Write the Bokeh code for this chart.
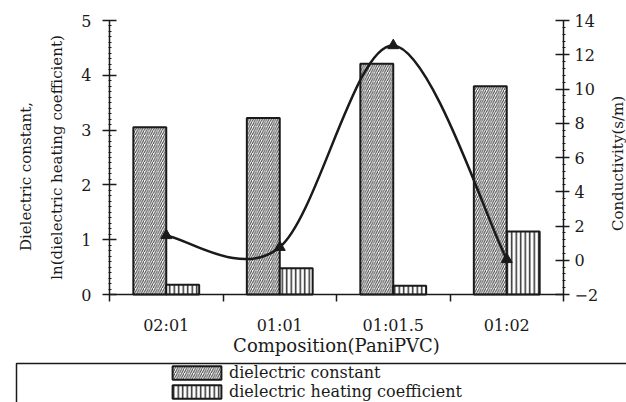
import math
from bokeh.plotting import figure
from bokeh.models import (ColumnDataSource, Range1d, LinearAxis, FixedTicker,
                          Legend, LegendItem, BoxAnnotation, Label)
from bokeh.transform import dodge
from bokeh.embed import file_html
from bokeh.resources import INLINE

# ---------------- data ----------------
categories = ["02:01", "01:01", "01:01.5", "01:02"]
dielectric_constant = [3.05, 3.22, 4.21, 3.80]
ln_heating_coeff = [0.18, 0.48, 0.16, 1.15]
conductivity = [1.45, 0.76, 12.54, 0.05]

left_ticks = [0, 1, 2, 3, 4, 5]
right_ticks = [-2, 0, 2, 4, 6, 8, 10, 12, 14]

series_labels = ["dielectric constant", "dielectric heating coefficient"]

# ---------------- layout / style ----------------
W, H = 626, 402
# pixel box of the plotting area (axes drawn at these edges)
PL, PR, PT, PB = 109, 563, 20, 294
FONT = "DejaVu Serif"
INK = "#1a1a1a"
BAR_W = 0.29

n = len(categories)
y_lo, y_hi = left_ticks[0], left_ticks[-1]
c_lo, c_hi = right_ticks[0], right_ticks[-1]

def extend(lo, hi, p_lo, p_hi, pix_lo, pix_hi):
    """range whose [lo, hi] maps to pixels [p_lo, p_hi] inside [pix_lo, pix_hi]"""
    k = (hi - lo) / (p_hi - p_lo)
    return Range1d(lo - (p_lo - pix_lo) * k, hi + (pix_hi - p_hi) * k)

x_range = extend(0, n, PL, PR, 0, W)
y_range = extend(y_lo, y_hi, H - PB, H - PT, 0, H)
c_range = extend(c_lo, c_hi, H - PB, H - PT, 0, H)

dc_style = dict(fill_color="white", line_color=INK, line_width=2,
                hatch_pattern="/", hatch_color="#3c3c3c", hatch_scale=4.5,
                hatch_weight=1)
hc_style = dict(fill_color="white", line_color=INK, line_width=2,
                hatch_pattern="|", hatch_color="#2a2a2a", hatch_scale=4.5,
                hatch_weight=1.5)

x_pos = [i + 0.5 for i in range(n)]
src = ColumnDataSource(dict(x=x_pos, cat=categories, dc=dielectric_constant,
                            hc=ln_heating_coeff, cond=conductivity))

p = figure(width=W, height=H, x_range=x_range, y_range=y_range,
           output_backend="svg", toolbar_location=None,
           min_border_left=0, min_border_right=0,
           min_border_top=0, min_border_bottom=0)
p.extra_y_ranges = {"cond": c_range}
p.grid.visible = False
p.outline_line_color = None
p.background_fill_color = "white"
p.border_fill_color = "white"

r_dc = p.vbar(x=dodge("x", -BAR_W / 2), top="dc", bottom=0, width=BAR_W,
              source=src, **dc_style)
r_hc = p.vbar(x=dodge("x", BAR_W / 2), top="hc", bottom=0, width=BAR_W,
              source=src, **hc_style)

# smoothed conductivity line (Catmull-Rom -> cubic Bezier through data points)
def smooth_segments(xs, ys):
    m = len(xs)
    seg = dict(x0=[], y0=[], x1=[], y1=[], cx0=[], cy0=[], cx1=[], cy1=[])
    for i in range(m - 1):
        xp, yp = (xs[i - 1], ys[i - 1]) if i > 0 else (xs[i], ys[i])
        xn, yn = (xs[i + 2], ys[i + 2]) if i + 2 < m else (xs[i + 1], ys[i + 1])
        seg["x0"].append(xs[i]); seg["y0"].append(ys[i])
        seg["x1"].append(xs[i + 1]); seg["y1"].append(ys[i + 1])
        seg["cx0"].append(xs[i] + (xs[i + 1] - xp) / 6)
        seg["cy0"].append(ys[i] + (ys[i + 1] - yp) / 6)
        seg["cx1"].append(xs[i + 1] - (xn - xs[i]) / 6)
        seg["cy1"].append(ys[i + 1] - (yn - ys[i]) / 6)
    return seg

curve_src = ColumnDataSource(smooth_segments(x_pos, conductivity))
p.bezier(x0="x0", y0="y0", x1="x1", y1="y1", cx0="cx0", cy0="cy0",
         cx1="cx1", cy1="cy1", source=curve_src, line_color=INK,
         line_width=2.5, y_range_name="cond")
p.scatter(x="x", y="cond", marker="triangle", size=11, fill_color=INK,
          line_color=INK, source=src, y_range_name="cond")

# ---------------- axes ----------------
def style_axis(ax):
    ax.axis_line_color = INK
    ax.axis_line_width = 1.5
    ax.major_tick_line_color = INK
    ax.major_tick_line_width = 1.5
    ax.minor_tick_line_color = INK
    ax.major_label_text_font = FONT
    ax.major_label_text_font_size = "16px"
    ax.major_label_text_color = INK
    ax.axis_label_text_font = FONT
    ax.axis_label_text_font_style = "normal"
    ax.axis_label_text_color = INK

xa = p.xaxis[0]
style_axis(xa)
xa.fixed_location = y_lo
xa.bounds = (0, n)
xa.ticker = FixedTicker(ticks=x_pos, minor_ticks=list(range(n + 1)))
xa.major_label_overrides = dict(zip(x_pos, categories))
xa.major_tick_in = 0
xa.major_tick_out = 0
xa.minor_tick_in = 0
xa.minor_tick_out = 7
xa.minor_tick_line_width = 1.5
xa.major_label_standoff = 14
xa.axis_label = "Composition(PaniPVC)"
xa.axis_label_text_font_size = "18px"
xa.axis_label_standoff = -3

ya = p.yaxis[0]
style_axis(ya)
ya.fixed_location = 0
ya.bounds = (y_lo, y_hi)
ya.ticker = FixedTicker(ticks=left_ticks, minor_ticks=[i / 10 for i in range(51)])
ya.major_tick_in = 7
ya.major_tick_out = 7
ya.minor_tick_in = 2
ya.minor_tick_out = 1
ya.minor_tick_line_width = 1
ya.major_label_standoff = 11
ya.axis_label = "ln(dielectric heating coefficient)"
ya.axis_label_text_font_size = "15px"
ya.axis_label_standoff = 12

ya2 = LinearAxis(ticker=FixedTicker(ticks=[]), axis_label="Dielectric constant,",
                 fixed_location=0, bounds=(y_lo, 4.3))
style_axis(ya2)
ya2.axis_line_color = None
ya2.major_tick_line_color = None
ya2.minor_tick_line_color = None
ya2.major_tick_out = 0
ya2.major_tick_in = 0
ya2.axis_label_text_font_size = "15px"
ya2.axis_label_standoff = 75
p.add_layout(ya2, "left")

yr = LinearAxis(y_range_name="cond", fixed_location=n, bounds=(c_lo, c_hi),
                ticker=FixedTicker(ticks=right_ticks,
                                   minor_ticks=[c_lo + 0.4 * i for i in range(41)]))
style_axis(yr)
yr.major_tick_in = 8
yr.major_tick_out = 6
yr.minor_tick_in = 1
yr.minor_tick_out = 2
yr.minor_tick_line_width = 1
yr.major_label_standoff = 5
p.add_layout(yr, "right")

p.add_layout(Label(x=617, y=H - 163, x_units="screen", y_units="screen",
                   text="Conductivity(s/m)", angle=math.pi / 2,
                   text_align="center", text_baseline="middle",
                   text_font=FONT, text_font_size="15px", text_color=INK))

# ---------------- legend ----------------
legend_box = BoxAnnotation(left=16, right=W + 200, top=H - 363, bottom=-200,
                           left_units="screen", right_units="screen",
                           top_units="screen", bottom_units="screen",
                           fill_color=None, fill_alpha=0, line_color=INK,
                           line_width=1.5, line_alpha=1)
p.add_layout(legend_box)

legend = Legend(items=[LegendItem(label=series_labels[0], renderers=[r_dc]),
                       LegendItem(label=series_labels[1], renderers=[r_hc])],
                location=(166, 1), orientation="vertical",
                border_line_color=None, background_fill_alpha=0,
                padding=0, margin=0, spacing=-1,
                glyph_width=61, glyph_height=17, label_height=17,
                label_standoff=2, label_text_font=FONT,
                label_text_font_size="16px", label_text_color=INK)
p.add_layout(legend)

open("out.html", "w").write(file_html(p, INLINE))
